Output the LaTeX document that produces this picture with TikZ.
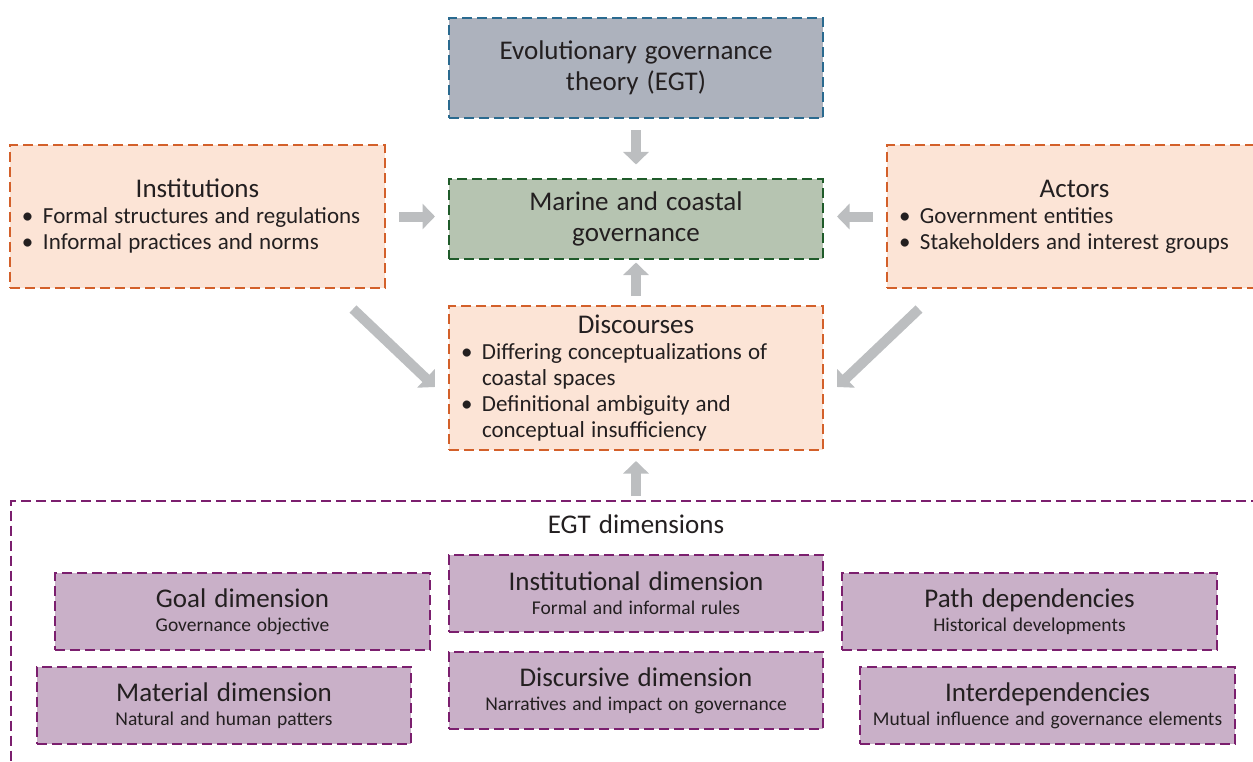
\documentclass[tikz,border=0pt]{standalone}
\usepackage{fontspec}
\setmainfont{Carlito}
\usetikzlibrary{arrows.meta,calc}

\definecolor{ink}{HTML}{231F20}
\definecolor{arrowgray}{HTML}{BCBEC0}
\definecolor{egtfill}{HTML}{ADB2BD}
\definecolor{egtline}{HTML}{2A6A8F}
\definecolor{govfill}{HTML}{B6C4B1}
\definecolor{govline}{HTML}{1F5B2A}
\definecolor{orfill}{HTML}{FCE4D6}
\definecolor{orline}{HTML}{D3602A}
\definecolor{pufill}{HTML}{C9B0C8}
\definecolor{puline}{HTML}{7B1F6E}

% text sizes, with a slightly wider interword space
\newcommand{\ttl}{\fontsize{27bp}{31bp}\selectfont\spaceskip=0.3em plus 0.05em\relax}
\newcommand{\bul}{\fontsize{23bp}{26bp}\selectfont\spaceskip=0.27em plus 0.05em\relax}
\newcommand{\subt}{\fontsize{19.5bp}{24bp}\selectfont\spaceskip=0.3em plus 0.05em\relax}
\newcommand{\bitem}[1]{\par\noindent\hangindent=21bp\hangafter=1\makebox[21bp][l]{\textbullet}#1}

\tikzset{
  box/.style={draw, line width=2bp, dash pattern=on 10bp off 5bp, inner xsep=12bp,
    inner ysep=0pt, text=ink, text width=#1-24bp, minimum width=#1},
  egtbox/.style={box=374bp, fill=egtfill, draw=egtline},
  govbox/.style={box=374bp, fill=govfill, draw=govline},
  orbox/.style={box=375bp, fill=orfill, draw=orline},
  dimbox/.style={box=375bp, fill=pufill, draw=puline, minimum height=77bp},
  barrow/.style={draw=arrowgray, line width=10bp, -{Triangle[length=12.5bp,width=25bp]}},
  plain/.style={text=ink, inner sep=0pt},
}

\begin{document}
\begin{tikzpicture}[x=1bp, y=-1bp]
\useasboundingbox (0,0) rectangle (1253,762);
\begin{scope}
\clip (0,0) rectangle (1253,762);

% outer frame of the dimensions block
\node[draw=puline, line width=1.5bp, dash pattern=on 10bp off 5bp, anchor=north west,
      minimum width=1300bp, minimum height=300bp, inner sep=0pt] (dims) at (10,500) {};
\node[plain, font=\ttl] (dimslabel) at (636,524) {EGT dimensions};

% upper boxes
\node[egtbox, minimum height=100bp] (egt) at (636,68)
  {\centering\ttl Evolutionary governance\\theory (EGT)\par};
\node[govbox, minimum height=80bp] (gov) at (636,218.5)
  {\centering\ttl Marine and coastal\\governance\par};
\node[orbox, minimum height=143bp] (inst) at (197.5,216.5)
  {{\centering\ttl Institutions\par}\bul\raggedright
   \bitem{Formal structures and regulations}\bitem{Informal practices and norms}\par};
\node[orbox, minimum height=143bp] (act) at (1074.5,216.5)
  {{\centering\ttl Actors\par}\bul\raggedright
   \bitem{Government entities}\bitem{Stakeholders and interest groups}\par};
\node[orbox, box=374bp, minimum height=144bp] (disc) at (636,378)
  {{\centering\ttl Discourses\par}\bul\raggedright
   \bitem{Differing conceptualizations of\newline coastal spaces}%
   \bitem{Definitional ambiguity and\newline conceptual insufficiency}\par};

% dimension boxes
\node[dimbox] (goal) at (242.5,611.5)
  {\centering{\ttl Goal dimension\par}{\subt Governance objective\par}};
\node[dimbox, box=374bp] (instdim) at (636,593.5)
  {\centering{\ttl Institutional dimension\par}{\subt Formal and informal rules\par}};
\node[dimbox] (path) at (1029.5,611.5)
  {\centering{\ttl Path dependencies\par}{\subt Historical developments\par}};
\node[dimbox, box=374bp] (mat) at (224,705.5)
  {\centering{\ttl Material dimension\par}{\subt Natural and human patters\par}};
\node[dimbox, box=374bp] (discdim) at (636,690.5)
  {\centering{\ttl Discursive dimension\par}{\subt Narratives and impact on governance\par}};
\node[dimbox] (inter) at (1047.5,705.5)
  {\centering{\ttl Interdependencies\par}{\subt Mutual influence and governance elements\par}};

% block arrows
\draw[barrow, shorten <=11bp, shorten >=13bp] (egt.south) -- (gov.north);
\draw[barrow, shorten <=13bp, shorten >=13bp] (inst.east) -- (inst.east -| gov.west);
\draw[barrow, shorten <=13bp, shorten >=13bp] (act.west) -- (act.west -| gov.east);
\draw[barrow, shorten <=9bp, shorten >=3bp] (disc.north) -- (gov.south);
\draw[barrow, shorten <=4bp, shorten >=10bp] (dims.north -| disc.south) -- (disc.south);
\draw[barrow] ($(inst.south east)+(-33,20)$) -- ($(disc.west)+(-13,9)$);
\draw[barrow] ($(act.south west)+(33,20)$) -- ($(disc.east)+(13,9)$);
\end{scope}
\end{tikzpicture}
\end{document}
